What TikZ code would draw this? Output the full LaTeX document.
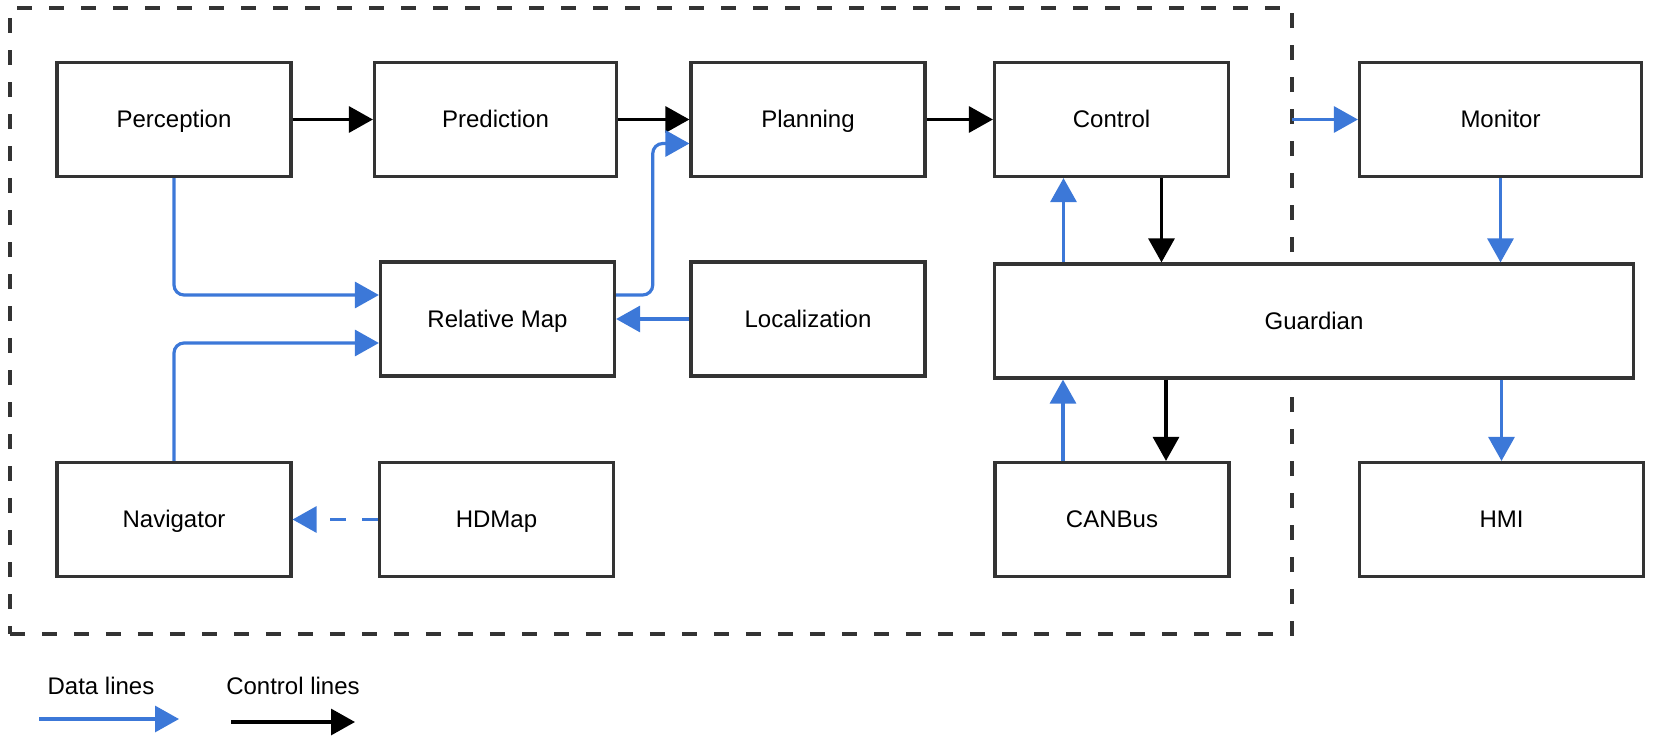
\documentclass[tikz,border=0pt]{standalone}
\usepackage{fontspec}
\setmainfont{Liberation Sans}
\usepackage{tikz}
\usetikzlibrary{positioning,calc,arrows.meta}
\definecolor{boxline}{HTML}{333333}
\definecolor{datablue}{RGB}{60,120,216}

\begin{document}
\begin{tikzpicture}[x=0.5pt, y=-0.5pt, module/.style={draw=boxline, fill=white, line width=1.6pt, minimum width=117pt, minimum height=57pt, inner sep=0pt, text height=9.7pt, text depth=1.6pt, font=\fontsize{12}{14}\selectfont}, data/.style={-{Triangle[length=12pt,width=13pt]}, draw=datablue, line width=1.6pt, rounded corners=5pt}, ctrlarrow/.style={-{Triangle[length=12pt,width=13pt]}, draw=black, line width=1.6pt}, legend/.style={inner sep=0pt, text height=8.7pt, text depth=2.6pt, font=\fontsize{12}{14}\selectfont}]
\useasboundingbox (0,0) rectangle (1655,744);
\node[draw=boxline, line width=1.8pt, dash pattern=on 7.5pt off 8.5pt, minimum width=641pt, minimum height=313pt, inner sep=0pt, outer sep=0pt] (sys) at (650.75,321.2) {};
\node[module] (perc) at (174,119.5) {Perception};
\node[module, minimum width=121pt] (pred) at (495.5,119.5) {Prediction};
\node[module] (plan) at (808,119.5) {Planning};
\node[module] (control) at (1111.5,119.5) {Control};
\node[module, minimum width=141pt] (monitor) at (1500.5,119.5) {Monitor};
\node[module] (relmap) at (497.5,319) {Relative Map};
\node[module] (loc) at (808,319) {Localization};
\node[module, minimum width=319.5pt] (guard) at (1314,321) {Guardian};
\node[module] (nav) at (174,519.5) {Navigator};
\node[module] (hdmap) at (496.5,519.5) {HDMap};
\node[module] (canbus) at (1112,519.5) {CANBus};
\node[module, minimum width=142pt] (hmi) at (1501.5,519.5) {HMI};
\draw[ctrlarrow] (perc) -- (pred);
\draw[ctrlarrow] (pred) -- (plan);
\draw[ctrlarrow] (plan) -- (control);
\draw[data] (perc.south) |- ([yshift=12pt]relmap.west);
\draw[data] (nav.north) |- ([yshift=-12pt]relmap.west);
\draw[data] ([yshift=12pt]relmap.east) -| ($(relmap.east)!0.5!(plan.west)$) |- ([yshift=-12pt]plan.west);
\draw[data] (loc) -- (relmap);
\draw[data, dash pattern=on 8pt off 8pt] (hdmap) -- (nav);
\draw[data] ([xshift=-24pt]control.south |- guard.north) -- ([xshift=-24pt]control.south);
\draw[ctrlarrow] ([xshift=25pt]control.south) -- ([xshift=25pt]control.south |- guard.north);
\draw[data] ([xshift=-24.5pt]canbus.north) -- ([xshift=-24.5pt]canbus.north |- guard.south);
\draw[ctrlarrow] ([xshift=27pt]canbus.north |- guard.south) -- ([xshift=27pt]canbus.north);
\draw[data] (sys.east |- monitor.west) -- (monitor.west);
\draw[data] (monitor.south) -- (monitor.south |- guard.north);
\draw[data] (hmi.north |- guard.south) -- (hmi.north);
\node[legend] (datalabel) at (101,688) {Data lines};
\node[legend] (ctrllabel) at (293,688) {Control lines};
\coordinate (d0) at (39,719);
\coordinate (d1) at (179,719);
\coordinate (c0) at (231,722);
\coordinate (c1) at (355,722);
\draw[data] (d0) -- (d1);
\draw[ctrlarrow] (c0) -- (c1);
\end{tikzpicture}
\end{document}
